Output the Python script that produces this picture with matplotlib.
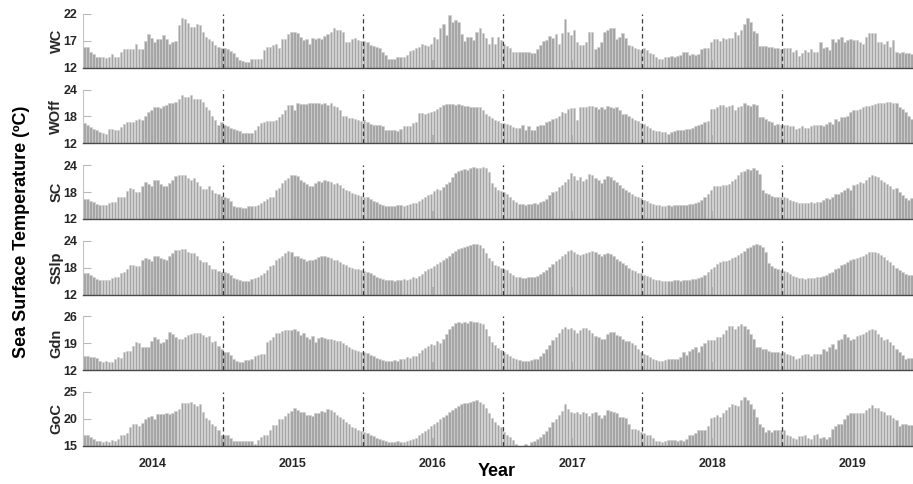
## Weekly-ish (8-day) sea surface temperature bars for six regions
import numpy as np
import matplotlib.pyplot as plt

plt.rcParams['font.family'] = ['Liberation Sans', 'DejaVu Sans']

## Data (one row = one Jul-Jun season, 46 bars; last season 43 bars)
wc = [
  15.8,15.8,15.0,14.5,14.0,14.0,14.0,13.8,14.0,14.5,14.0,14.0,15.0,15.5,15.4,15.5,15.4,16.5,15.5,15.5,17.0,18.3,17.6,16.8,17.3,17.3,18.1,17.3,16.4,16.8,17.0,20.0,21.3,21.0,20.3,19.6,19.6,20.1,20.0,18.7,17.8,17.4,16.9,16.3,15.8,15.6,
  15.6,15.5,15.2,14.7,14.0,13.4,13.2,13.1,13.1,13.6,13.7,13.7,13.7,15.3,15.9,15.9,16.2,16.5,15.6,17.3,17.3,18.2,18.6,18.6,18.4,17.7,17.2,17.3,16.5,17.5,17.3,17.5,17.3,17.9,18.2,18.7,19.3,19.1,19.1,18.6,16.7,16.8,17.3,17.5,17.2,17.0,
  17.0,16.8,16.3,16.1,15.9,15.6,15.0,14.4,13.7,13.6,13.7,13.9,13.9,13.9,14.4,15.2,15.3,15.6,15.9,16.5,16.2,16.0,16.5,17.7,17.3,19.3,20.1,18.1,21.8,20.6,20.9,20.6,18.2,17.0,17.8,17.7,17.2,18.7,19.3,18.5,17.5,16.5,17.7,16.5,17.8,17.2,
  16.5,16.0,15.6,15.0,15.0,15.0,15.0,15.0,15.0,14.8,14.8,15.4,16.2,17.0,17.2,17.9,17.5,18.2,16.5,18.4,21.0,18.6,18.1,19.0,16.8,16.3,16.2,16.8,18.6,18.7,15.4,15.9,16.8,18.6,19.1,19.3,19.3,17.3,17.7,18.4,17.5,16.2,16.0,15.6,15.4,15.3,
  15.6,15.3,14.7,14.5,14.0,13.6,13.6,13.9,14.0,14.2,14.0,14.2,14.4,14.9,14.9,14.4,14.6,14.3,14.5,15.4,15.7,15.6,16.8,17.3,17.3,17.0,17.5,17.3,17.5,17.6,18.6,18.1,19.0,20.1,21.3,20.6,18.9,18.4,16.0,16.0,16.0,15.9,15.8,15.6,15.6,15.4,
  15.7,15.7,15.6,15.0,15.3,14.2,14.7,15.3,15.0,15.4,15.0,15.0,16.7,15.6,15.9,15.3,17.3,16.7,17.3,17.7,16.7,17.2,17.3,17.2,17.2,16.8,16.5,17.8,18.5,18.4,18.5,16.8,16.8,16.5,17.0,15.9,17.2,15.0,14.7,15.0,14.7,14.8,14.6,
]
woff = [
  16.6,16.2,15.6,15.2,14.9,14.5,14.3,14.0,15.2,15.2,14.9,15.0,15.6,16.4,16.7,16.7,16.7,17.3,17.5,17.3,18.2,19.0,19.4,20.0,20.0,19.9,20.3,20.5,21.0,20.9,21.2,21.8,22.9,22.4,22.4,22.7,21.8,21.8,21.8,21.2,20.1,19.4,18.2,17.1,16.0,16.7,
  16.0,15.8,15.5,15.2,14.9,14.7,14.3,14.3,14.3,14.3,14.9,15.8,16.5,16.7,17.0,17.0,17.0,17.3,17.9,18.6,19.5,20.5,20.5,19.5,20.9,20.7,20.7,20.7,20.9,21.0,20.9,20.9,20.7,20.9,20.5,20.9,20.3,20.0,19.4,18.2,18.0,17.7,17.7,17.5,17.3,17.0,
  17.3,16.7,16.4,16.2,16.2,16.0,15.8,15.0,15.0,14.9,14.9,14.7,15.2,15.8,15.8,15.9,16.5,16.7,18.8,18.8,18.6,18.8,19.0,19.3,19.6,20.0,20.5,20.7,20.7,20.7,20.6,20.7,20.6,20.3,20.3,20.1,20.0,20.0,20.0,19.4,18.6,18.0,17.7,17.3,16.9,16.6,
  16.5,16.4,16.0,15.6,15.5,15.5,16.0,15.0,15.8,15.0,15.0,15.8,16.0,16.2,16.7,17.0,17.4,17.7,18.0,19.0,18.8,19.7,19.9,19.9,17.3,20.0,20.0,20.0,20.3,20.3,20.0,19.7,20.0,19.7,20.3,20.1,19.9,20.0,19.4,18.6,18.6,18.0,17.7,17.3,17.0,16.6,
  16.4,15.8,15.5,15.0,14.7,14.7,14.5,14.5,14.1,14.5,14.7,14.9,14.9,15.0,15.2,15.2,15.5,15.8,16.1,16.4,16.7,16.9,19.6,19.7,20.1,20.5,20.5,20.0,20.3,20.5,19.4,20.0,20.3,21.0,20.5,20.3,20.8,20.6,17.9,17.9,17.5,17.0,16.7,16.2,16.4,16.2,
  16.1,16.0,15.8,15.8,15.2,15.5,15.8,15.5,15.4,15.8,16.2,16.0,16.2,15.9,16.4,16.7,16.4,17.5,17.0,17.9,17.9,18.1,19.0,19.4,19.5,19.7,20.0,20.3,20.3,20.5,20.7,20.9,21.0,21.0,21.2,21.2,21.1,20.9,20.1,19.7,19.0,18.2,17.5,
]
sc = [
  16.4,16.4,16.1,15.7,15.3,15.0,15.0,15.2,15.5,15.8,15.7,16.8,17.0,17.0,18.2,18.9,18.7,18.0,18.0,19.3,20.2,19.7,19.3,20.8,20.6,19.7,19.4,19.4,20.0,20.6,21.5,21.7,21.7,21.9,21.2,20.8,21.2,20.2,19.4,18.7,18.7,19.3,18.5,17.8,17.6,17.2,
  16.9,16.7,15.9,14.8,14.6,14.6,14.4,14.4,14.8,14.9,14.9,15.2,15.5,16.1,16.4,16.9,17.0,18.5,18.9,20.0,20.6,21.2,21.7,21.7,21.5,20.6,20.2,19.9,19.4,19.3,20.0,20.5,20.3,20.6,20.4,20.2,19.9,20.0,19.6,19.0,18.5,18.2,17.8,17.5,17.3,17.2,
  17.0,16.8,16.4,16.0,15.7,15.3,15.0,14.9,14.8,14.8,14.9,15.0,15.0,14.9,15.1,15.3,15.6,15.5,16.0,16.4,17.0,17.4,17.6,18.2,18.6,18.4,19.2,19.8,20.3,21.4,22.2,22.8,23.0,23.2,23.0,23.4,23.5,23.3,23.4,23.6,23.3,22.5,20.0,19.2,18.5,18.2,
  18.0,17.6,16.8,16.2,15.7,15.4,15.3,15.2,15.4,15.3,15.5,15.3,15.7,16.0,16.5,17.3,17.9,18.3,19.2,19.5,20.2,21.0,22.2,21.5,20.8,21.4,20.5,20.9,22.0,21.8,21.2,20.6,20.0,21.0,21.6,21.3,20.8,20.2,19.6,18.8,18.4,17.9,17.5,17.2,16.9,16.6,
  16.3,16.0,15.6,15.3,15.1,15.0,14.9,14.9,15.0,14.9,15.0,15.1,15.0,15.2,15.1,15.3,15.4,15.6,15.8,16.2,16.8,17.5,18.5,19.3,19.4,19.3,19.6,19.5,19.8,20.4,21.0,21.7,22.4,22.8,23.1,23.0,23.4,22.9,22.0,18.5,17.8,17.6,17.2,17.0,16.8,16.9,
  16.9,16.6,16.2,16.0,15.8,15.6,15.5,15.6,15.5,15.7,15.6,15.8,15.8,16.2,16.6,16.4,17.0,17.6,17.5,18.0,18.4,18.9,18.5,19.5,19.8,20.2,20.0,20.6,21.3,21.9,21.6,21.3,20.7,20.2,19.9,19.3,18.6,18.8,18.0,17.3,16.6,16.3,16.6,
]
sslp = [
  16.7,16.7,16.3,15.8,15.4,15.2,15.2,15.3,15.3,15.6,15.8,15.8,16.7,17.0,17.8,18.7,18.7,18.3,18.3,19.6,20.2,20.0,19.5,20.5,20.5,20.2,20.0,19.8,20.7,21.3,22.0,22.0,22.2,22.2,21.5,21.3,21.3,20.5,19.8,19.3,19.3,18.5,17.8,17.6,17.3,17.0,
  17.0,16.9,16.3,15.6,15.4,15.2,15.0,15.0,15.1,15.4,15.6,15.9,16.3,16.8,17.4,18.3,18.5,19.6,20.2,20.5,21.3,21.7,21.5,20.7,20.5,20.2,20.0,19.5,19.8,19.8,20.0,20.4,20.6,20.5,20.3,20.1,19.8,19.6,19.2,18.8,18.5,18.2,18.0,17.8,17.6,17.5,
  17.3,17.0,16.7,16.3,16.0,15.7,15.5,15.3,15.2,15.2,15.1,15.3,15.2,15.4,15.3,15.5,15.8,15.7,16.2,16.6,17.2,17.6,17.9,18.4,18.9,19.2,19.6,20.1,20.6,21.2,21.8,22.2,22.5,22.7,22.9,23.1,23.2,23.3,23.0,22.4,21.2,20.2,19.4,18.7,18.3,18.0,
  17.8,17.4,16.9,16.4,16.0,15.8,15.7,15.7,15.9,15.8,16.0,16.2,16.5,17.0,17.5,18.1,18.8,19.5,20.0,20.6,21.0,21.8,22.0,21.6,21.0,20.8,21.0,21.2,21.5,21.8,21.4,21.0,20.6,21.0,21.3,21.0,20.5,20.0,19.5,19.0,18.5,18.0,17.5,17.2,16.9,16.7,
  16.4,16.1,15.8,15.5,15.3,15.2,15.1,15.0,15.0,15.1,15.2,15.2,15.1,15.3,15.2,15.3,15.4,15.5,15.7,16.0,16.4,17.0,17.6,18.2,18.8,19.2,19.4,19.5,19.8,20.2,20.4,20.8,21.2,21.8,22.3,22.7,23.0,23.2,23.1,22.6,21.5,19.0,18.4,18.0,17.6,17.4,
  17.3,17.0,16.6,16.2,15.9,15.7,15.6,15.5,15.6,15.7,15.6,15.8,15.9,16.1,16.4,16.7,17.1,17.6,18.0,18.5,18.9,19.3,19.6,19.9,20.1,20.3,20.6,21.0,21.4,21.6,21.5,21.2,20.8,20.4,19.8,19.2,18.6,18.0,17.5,17.0,16.6,16.4,16.4,
]
gdn = [
  15.7,15.7,15.5,15.3,15.1,14.4,14.2,14.4,14.2,14.2,14.8,15.3,15.1,16.8,17.0,16.9,18.3,19.4,19.0,17.9,17.9,18.0,19.6,20.5,20.0,19.0,19.4,20.0,22.0,21.5,20.5,20.0,20.2,20.6,21.1,21.3,21.7,21.8,21.8,21.1,20.5,20.9,19.2,19.6,18.3,17.6,
  16.8,16.6,15.9,14.9,14.3,14.2,14.2,14.6,14.6,14.8,15.6,15.9,16.3,16.3,19.2,19.8,20.7,21.6,21.7,22.1,22.4,22.4,22.5,22.6,22.1,21.2,21.6,20.7,20.0,20.9,19.4,20.3,20.5,20.3,20.0,20.2,19.8,19.5,19.5,19.0,18.5,18.0,17.6,17.3,17.0,16.8,
  16.6,16.4,16.0,15.6,15.2,14.8,14.6,14.4,14.3,14.4,14.6,14.5,14.8,15.0,15.4,15.2,15.6,15.8,16.5,17.2,17.8,18.3,18.8,18.6,19.5,19.0,20.0,21.5,22.8,23.6,24.2,24.5,24.3,24.6,24.4,24.7,24.5,24.6,24.3,24.0,22.8,21.0,19.4,18.6,17.8,17.2,
  16.6,16.2,15.8,15.2,14.8,14.6,14.5,14.4,14.5,14.6,14.8,15.0,15.6,16.4,17.5,18.6,19.8,20.6,21.8,22.8,23.3,22.6,23.0,22.4,21.8,22.5,22.9,23.1,22.5,21.8,21.0,20.6,20.2,20.0,21.5,21.9,21.9,21.1,20.8,20.2,19.6,19.6,19.1,18.5,17.4,16.8,
  16.3,15.9,15.3,15.0,14.6,14.4,14.4,14.6,15.0,15.0,14.8,15.0,15.5,16.6,15.9,17.0,17.6,17.9,16.6,18.3,19.0,19.8,19.8,19.8,20.5,20.5,21.3,22.5,23.4,23.4,22.8,23.4,23.9,23.4,22.8,21.5,20.0,18.1,18.1,17.6,17.6,17.0,16.6,16.6,16.6,16.5,
  16.6,16.3,16.0,15.6,15.0,15.2,15.9,16.1,16.1,15.6,16.1,16.3,16.3,17.6,17.0,18.1,18.7,17.6,19.8,20.2,21.5,20.6,19.8,20.2,20.8,21.1,21.5,22.0,22.4,22.6,22.4,21.5,20.6,19.8,20.2,19.3,18.5,17.6,16.8,15.9,15.0,15.2,15.2,
]
goc = [
  17.0,17.0,16.7,16.2,15.9,15.9,15.6,15.8,15.7,16.0,15.8,16.2,17.0,17.0,17.3,18.4,19.1,19.1,18.6,19.2,20.0,20.4,20.5,20.0,20.9,20.9,20.9,21.0,20.9,21.0,21.4,21.9,23.0,23.0,23.0,23.1,22.7,22.4,22.8,21.3,20.2,19.7,19.1,18.6,17.9,17.0,
  17.0,17.0,16.4,15.9,15.9,15.9,15.9,15.9,15.9,15.9,15.3,16.1,16.7,17.0,17.0,17.9,18.8,18.8,19.9,19.9,20.5,21.0,21.5,22.1,21.7,21.3,21.3,20.7,20.7,20.6,21.1,21.0,21.5,21.3,21.8,21.6,21.2,20.8,20.3,20.0,19.5,19.0,18.5,18.3,18.0,17.8,
  17.6,17.3,17.0,16.8,16.5,16.3,16.0,15.8,15.7,15.6,15.6,15.8,15.6,15.7,15.9,16.0,16.3,16.5,16.9,17.4,17.8,18.2,18.6,19.0,19.5,19.9,20.3,20.8,21.2,21.6,22.0,22.4,22.7,22.9,23.0,23.2,23.4,23.5,23.2,22.8,22.0,21.0,20.2,19.5,18.9,18.5,
  17.5,17.0,16.6,16.0,15.4,14.9,14.6,15.3,14.8,15.6,15.9,16.2,16.6,17.2,17.8,18.5,19.4,20.0,20.8,21.5,22.7,21.8,21.2,21.0,21.3,20.9,21.2,21.0,20.6,21.0,21.3,20.7,20.1,20.8,21.7,21.5,21.3,21.1,20.4,20.4,20.1,19.1,18.2,18.2,17.9,17.6,
  17.4,17.0,17.0,16.5,15.9,15.9,15.7,15.9,16.0,16.0,16.0,15.9,16.0,15.8,16.2,17.0,17.0,17.3,18.0,18.0,17.9,18.6,20.1,20.4,20.7,20.4,21.0,21.7,22.2,22.8,22.6,22.4,23.5,24.0,23.6,22.8,21.9,20.4,19.0,18.5,17.6,18.0,17.6,18.0,17.9,17.9,
  17.9,17.0,16.8,16.4,16.2,16.8,16.8,17.0,16.4,16.2,17.0,17.1,16.5,16.6,16.2,16.6,18.2,18.6,19.1,19.1,19.9,20.8,21.0,21.0,21.0,21.0,21.0,21.6,22.1,22.5,22.1,22.1,21.5,21.3,20.8,20.7,20.1,19.7,18.6,19.0,19.0,18.9,18.9,
]

names = ['WC', 'WOff', 'SC', 'SSlp', 'Gdn', 'GoC']
series = [wc, woff, sc, sslp, gdn, goc]
ylims = [(12, 22), (12, 24), (12, 24), (12, 24), (12, 26), (15, 25)]
yticks = [[12, 17, 22], [12, 18, 24], [12, 18, 24], [12, 18, 24], [12, 19, 26], [15, 20, 25]]
years = [2014, 2015, 2016, 2017, 2018, 2019]
season_edges = [2014.5, 2015.5, 2016.5, 2017.5, 2018.5]

per_year = 46
t0 = 2013.5

## Figure
W, H = 913, 484
fig = plt.figure(figsize=(W/100, H/100), dpi=100)

for k in range(6):
  top = 14 + 75.6*k
  bot = 67.7 + 75.6*k
  ax = fig.add_axes([83/W, 1 - bot/H, (W-83)/W, (bot-top)/H])
  vals = np.array(series[k])
  x = t0 + (np.arange(np.size(vals)) + 0.5)/per_year
  ax.bar(x, vals, width=0.82/per_year, color='#a6a6a6',
         edgecolor='#cfcfcf', linewidth=0.5, zorder=2)
  for e in season_edges:
    ax.axvline(e, color='#3a3a3a', linestyle=(0, (3.5, 2.5)), linewidth=0.9, zorder=3)
  ax.set_xlim(t0, t0 + np.size(vals)/per_year)
  ax.set_ylim(ylims[k])
  ax.set_yticks(yticks[k])
  ax.set_xticks(years)
  ax.spines['top'].set_visible(False)
  ax.spines['right'].set_visible(False)
  ax.spines['left'].set_color('#c4c4c4')
  ax.spines['left'].set_linewidth(0.8)
  ax.spines['bottom'].set_color('#4a4a4a')
  ax.spines['bottom'].set_linewidth(1.0)
  ax.spines['bottom'].set_zorder(4)
  ax.tick_params(axis='y', direction='in', length=6, width=0.8, color='#b8b8b8',
                 labelsize=9, labelcolor='#262626', pad=4)
  ax.tick_params(axis='x', direction='in', length=6, width=1.3, color='#202020',
                 labelsize=9, labelcolor='#262626', pad=9)
  for lab in ax.get_yticklabels():
    lab.set_fontweight('bold')
  if k < 5:
    ax.set_xticklabels([])
  else:
    ax.set_xticklabels([str(y) for y in years], fontweight='bold')
  ax.set_ylabel(names[k], fontsize=10.5, fontweight='bold', color='#262626', labelpad=0)

fig.text(22/W, 1 - 232/H, 'Sea Surface Temperature (ºC)', rotation=90,
         ha='center', va='center', fontsize=13, fontweight='bold')
fig.text(497/W, 1 - 472/H, 'Year', ha='center', va='center',
         fontsize=13, fontweight='bold')

plt.savefig('out.png', dpi=100)
